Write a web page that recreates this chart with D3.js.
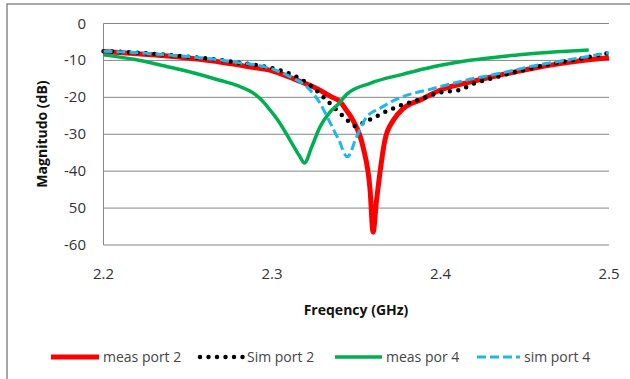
<!DOCTYPE html>
<html lang="en">
<head>
  <meta charset="UTF-8">
  <title>Magnitude vs Frequency</title>
  <script src="https://d3js.org/d3.v7.min.js"></script>
  <style>
    body { margin: 0; background: #fff; }
    text { font-family: "Open Sans", "Liberation Sans", sans-serif; }
  </style>
</head>
<body>
  <svg id="chart" width="630" height="379"></svg>
  <script>
    // series data (GHz / dB)
    const measPort2F = [2.2, 2.218, 2.238, 2.257, 2.277, 2.29, 2.3, 2.31, 2.325, 2.335, 2.3404, 2.344, 2.348, 2.354, 2.3582, 2.36, 2.362, 2.364, 2.367, 2.372, 2.378, 2.388, 2.4, 2.416, 2.435, 2.455, 2.475, 2.5];
    const measPort2 = [-7.6, -8.1, -8.8, -9.7, -11.0, -12.0, -12.8, -14.5, -17.3, -19.8, -21.2, -23.4, -26.2, -33.4, -45, -56.5, -48, -40.6, -31.6, -26.2, -23.0, -20.7, -18.0, -16.0, -14.0, -12.1, -10.6, -9.3];

    const simPort2F = [2.2, 2.22, 2.24, 2.26, 2.28, 2.3, 2.3126, 2.3225, 2.3314, 2.3394, 2.3447, 2.3498, 2.3552, 2.3611, 2.366, 2.372, 2.377, 2.388, 2.3997, 2.4116, 2.4175, 2.4284, 2.4452, 2.463, 2.4808, 2.5];
    const simPort2 = [-7.5, -7.9, -8.6, -9.4, -10.6, -12.1, -14.0, -16.7, -20.3, -23.9, -26.2, -27.8, -26.6, -25.4, -24.2, -23.0, -22.1, -20.5, -18.7, -18.0, -16.7, -15.1, -13.1, -11.2, -9.7, -8.0];

    const measPort4F = [2.2, 2.218, 2.238, 2.257, 2.27, 2.28, 2.2869, 2.2929, 2.2988, 2.3047, 2.3107, 2.3166, 2.3192, 2.3236, 2.3285, 2.3344, 2.3394, 2.3443, 2.3582, 2.378, 2.3957, 2.4155, 2.4353, 2.455, 2.475, 2.488];
    const measPort4 = [-8.5, -9.7, -11.7, -13.8, -15.5, -16.9, -18.3, -20.3, -23.4, -27.0, -31.6, -36.1, -37.8, -33.4, -28.0, -24.0, -21.8, -19.2, -16.2, -13.7, -11.7, -10.1, -9.0, -8.1, -7.5, -7.2];

    const simPort4F = [2.2, 2.22, 2.24, 2.26, 2.28, 2.2989, 2.3107, 2.3206, 2.3285, 2.3344, 2.3397, 2.3447, 2.3502, 2.3562, 2.364, 2.374, 2.3957, 2.4156, 2.4353, 2.455, 2.475, 2.5];
    const simPort4 = [-7.5, -7.9, -8.6, -9.4, -10.6, -12.1, -14.4, -17.1, -21.6, -26.8, -31.6, -36.1, -30.7, -25.3, -23.0, -20.5, -17.6, -15.3, -13.5, -11.5, -9.9, -7.9];

    const xTicks = [2.2, 2.3, 2.4, 2.5];
    const yTicks = [0, -10, -20, -30, -40, -50, -60];
    const yTickLabels = ['0', '-10', '-20', '-30', '-40', '50', '-60'];
    const seriesNames = ['meas port 2', 'Sim port 2', 'meas por 4', 'sim port 4'];

    const svg = d3.select('#chart');

    // outer chart frame
    svg.append('rect')
      .attr('x', 7).attr('y', 4)
      .attr('width', 660).attr('height', 420)
      .attr('fill', 'none')
      .attr('stroke', '#898989')
      .attr('stroke-width', 1.5);

    const plotLeft = 103.5, plotRight = 609, plotTop = 23.5, plotBottom = 245;

    const x = d3.scaleLinear().domain([2.2, 2.5]).range([plotLeft, plotRight]);
    const y = d3.scaleLinear().domain([-60, 0]).range([plotBottom, plotTop]);

    // horizontal gridlines
    svg.append('g')
      .selectAll('line')
      .data(yTicks)
      .enter()
      .append('line')
      .attr('x1', plotLeft).attr('x2', plotRight)
      .attr('y1', d => y(d)).attr('y2', d => y(d))
      .attr('stroke', '#878787')
      .attr('stroke-width', 1);

    // left axis line
    svg.append('line')
      .attr('x1', plotLeft).attr('x2', plotLeft)
      .attr('y1', plotTop).attr('y2', plotBottom)
      .attr('stroke', '#878787');

    // y tick labels
    svg.append('g')
      .selectAll('text')
      .data(yTicks)
      .enter()
      .append('text')
      .attr('x', 86)
      .attr('y', d => y(d) + 5)
      .attr('text-anchor', 'end')
      .attr('font-size', '15px')
      .attr('fill', '#333')
      .text((d, i) => yTickLabels[i]);

    // x tick labels
    svg.append('g')
      .selectAll('text')
      .data(xTicks)
      .enter()
      .append('text')
      .attr('x', d => x(d))
      .attr('y', 279)
      .attr('text-anchor', 'middle')
      .attr('font-size', '15px')
      .attr('fill', '#333')
      .text(d => d.toFixed(1));

    // axis titles
    svg.append('text')
      .attr('transform', 'translate(47,134) rotate(-90)')
      .attr('text-anchor', 'middle')
      .attr('font-size', '14px')
      .attr('font-weight', 'bold')
      .attr('fill', '#111')
      .text('Magnitudo (dB)');

    svg.append('text')
      .attr('x', 356).attr('y', 315)
      .attr('text-anchor', 'middle')
      .attr('font-size', '14px')
      .attr('font-weight', 'bold')
      .attr('fill', '#111')
      .text('Freqency (GHz)');

    const line = d3.line()
      .x(d => x(d[0]))
      .y(d => y(d[1]))
      .curve(d3.curveMonotoneX);

    const styles = [
      { color: '#FF0000', width: 5, dash: null, cap: 'butt' },
      { color: '#000000', width: 4.5, dash: '0,8.5', cap: 'round' },
      { color: '#00B050', width: 3.5, dash: null, cap: 'butt' },
      { color: '#1CB8E6', width: 3, dash: '9,4', cap: 'butt' }
    ];

    const series = [
      d3.zip(measPort2F, measPort2),
      d3.zip(simPort2F, simPort2),
      d3.zip(measPort4F, measPort4),
      d3.zip(simPort4F, simPort4)
    ];

    series.forEach((pts, i) => {
      svg.append('path')
        .datum(pts)
        .attr('d', line)
        .attr('fill', 'none')
        .attr('stroke', styles[i].color)
        .attr('stroke-width', styles[i].width)
        .attr('stroke-dasharray', styles[i].dash)
        .attr('stroke-linecap', styles[i].cap)
        .attr('stroke-linejoin', 'round');
    });

    // legend
    const legendX = [51, 200, 335, 477];
    const legendW = [48, 43, 47, 43];
    const legendY = 357;
    const legend = svg.append('g');
    seriesNames.forEach((name, i) => {
      legend.append('line')
        .attr('x1', legendX[i]).attr('x2', legendX[i] + legendW[i])
        .attr('y1', legendY).attr('y2', legendY)
        .attr('stroke', styles[i].color)
        .attr('stroke-width', styles[i].width)
        .attr('stroke-dasharray', styles[i].dash)
        .attr('stroke-linecap', styles[i].cap);
      legend.append('text')
        .attr('x', legendX[i] + legendW[i] + 4)
        .attr('y', 362)
        .attr('font-size', '14px')
        .attr('fill', '#444')
        .text(name);
    });
  </script>
</body>
</html>
